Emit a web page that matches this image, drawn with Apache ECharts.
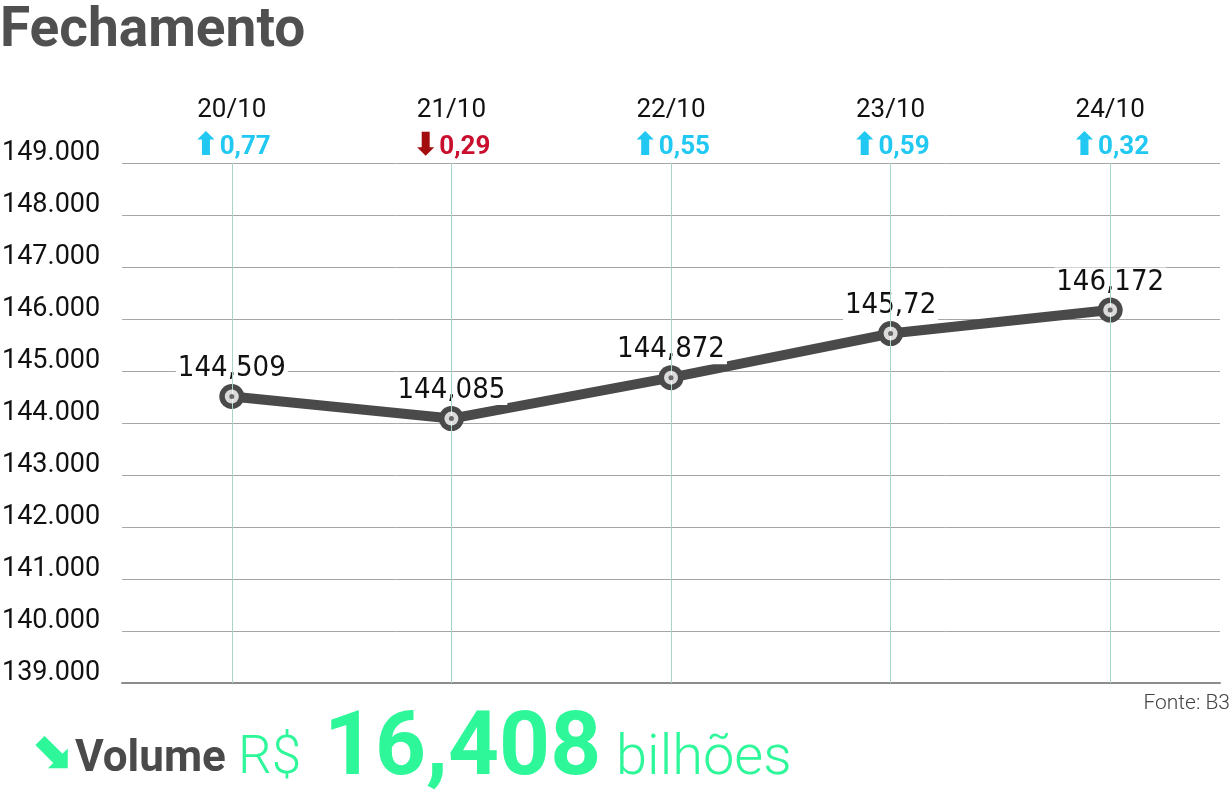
<!DOCTYPE html>
<html><head><meta charset="utf-8">
<script src="https://cdn.jsdelivr.net/npm/echarts@6/dist/echarts.min.js"></script>
<style>html,body{margin:0;padding:0;background:#fff}#c{width:1232px;height:803px}</style>
</head><body><div id="c"></div>
<script>
const dates = ['20/10','21/10','22/10','23/10','24/10'];
const closes = [144509, 144085, 144872, 145720, 146172];
const changes = [0.77, -0.29, 0.55, 0.59, 0.32];
const yMin = 139000, yMax = 149000, yStep = 1000;
const volume = '16,408';
const title = 'Fechamento';
const source = 'Fonte: B3';

const fmtThousands = v => String(v).replace(/\B(?=(\d{3})+(?!\d))/g, '.');
const fmtClose = v => String(v / 1000).replace('.', ',');
const fmtChange = v => Math.abs(v).toFixed(2).replace('.', ',');

const chart = echarts.init(document.getElementById('c'), null, {renderer: 'canvas'});
const UP = '#20c8f2', DOWN = '#c8102e', DOWNARROW = '#a30d0d', GREEN = '#2ef79a', DARK = '#4a4a4a';
const NARROW = '"DejaVu Sans Condensed", "Roboto Condensed", Roboto';

chart.setOption({
  backgroundColor: '#fff',
  animation: false,
  grid: {left: 122, right: 12, top: 163, bottom: 120, containLabel: false, outerBoundsMode: 'none'},
  xAxis: [{
    type: 'category', data: dates, position: 'top', boundaryGap: true,
    axisLine: {show: false}, axisTick: {show: false}, splitLine: {show: false},
    axisLabel: {
      margin: -2, interval: 0,
      formatter: (val, idx) => {
        const c = changes[idx];
        return '{d|' + val + '}\n' + (c >= 0 ? '{uu|⬆}{u|' : '{dd|⬇}{dn|') + fmtChange(c) + '}';
      },
      rich: {
        d: {fontFamily: 'Roboto', fontSize: 26, color: '#111', lineHeight: 38},
        u: {fontFamily: 'Roboto', fontWeight: 'bold', fontSize: 26, color: UP, lineHeight: 36},
        uu: {fontFamily: 'DejaVu Sans', fontWeight: 'bold', fontSize: 32, color: UP, lineHeight: 36},
        dn: {fontFamily: 'Roboto', fontWeight: 'bold', fontSize: 26, color: DOWN, lineHeight: 36},
        dd: {fontFamily: 'DejaVu Sans', fontWeight: 'bold', fontSize: 32, color: DOWNARROW, lineHeight: 36}
      }
    }
  }, {
    type: 'category', data: dates, position: 'bottom', boundaryGap: true,
    axisLine: {show: true, lineStyle: {color: '#8c8c8c', width: 2}},
    axisTick: {show: false}, axisLabel: {show: false}, splitLine: {show: false}
  }],
  yAxis: {
    type: 'value', min: yMin, max: yMax, interval: yStep,
    axisLine: {show: false}, axisTick: {show: false},
    splitLine: {lineStyle: {color: '#a6a6a6', width: 1}},
    axisLabel: {
      align: 'left', margin: 120, verticalAlign: 'bottom', lineHeight: 20,
      fontFamily: 'Roboto', fontSize: 27, color: '#111',
      formatter: v => fmtThousands(v)
    }
  },
  series: [{
    type: 'line', data: [], xAxisIndex: 0, z: 1, silent: true,
    markLine: {
      silent: true, symbol: 'none', label: {show: false},
      lineStyle: {color: '#a9d4c8', width: 1, type: 'solid'},
      data: dates.map(d => ({xAxis: d}))
    }
  }, {
    type: 'line', data: closes, xAxisIndex: 0, z: 3,
    symbol: 'circle', symbolSize: 25,
    lineStyle: {color: DARK, width: 10},
    itemStyle: {color: DARK},
    label: {
      show: true, position: 'top', distance: 1,
      fontFamily: NARROW, fontSize: 29, color: '#111',
      backgroundColor: '#fff', padding: [0, 2, 0, 2],
      formatter: p => fmtClose(p.value)
    }
  }, {
    type: 'scatter', data: closes, xAxisIndex: 0, z: 5, silent: true,
    symbol: 'circle', symbolSize: 14, itemStyle: {color: '#fff'}
  }, {
    type: 'scatter', data: closes, xAxisIndex: 0, z: 6, silent: true,
    symbol: 'circle', symbolSize: 5, itemStyle: {color: DARK}
  }],
  graphic: [
    {type: 'text', left: 0, top: 5, style: {text: title, fontFamily: 'Roboto', fontWeight: 'bold', fontSize: 55, fill: '#505050'}},
    {type: 'text', right: 2, top: 693, style: {text: source, fontFamily: 'Roboto', fontWeight: 300, fontSize: 21, fill: '#444'}},
    {type: 'text', left: 29, top: 727, style: {text: '⬊', fontFamily: 'DejaVu Sans', fontWeight: 'bold', fontSize: 52, fill: GREEN}},
    {type: 'text', left: 75, top: 738, style: {text: 'Volume', fontFamily: 'Roboto', fontWeight: 'bold', fontSize: 44, fill: DARK}},
    {type: 'text', left: 238, top: 733, style: {text: 'R$', fontFamily: 'Roboto', fontWeight: 300, fontSize: 53, fill: GREEN}},
    {type: 'text', left: 324, top: 707, style: {text: volume, fontFamily: 'Roboto', fontWeight: 'bold', fontSize: 89, fill: GREEN}},
    {type: 'text', left: 616, top: 732, style: {text: 'bilhões', fontFamily: 'Roboto', fontWeight: 300, fontSize: 56, fill: GREEN}}
  ]
});
</script></body></html>
